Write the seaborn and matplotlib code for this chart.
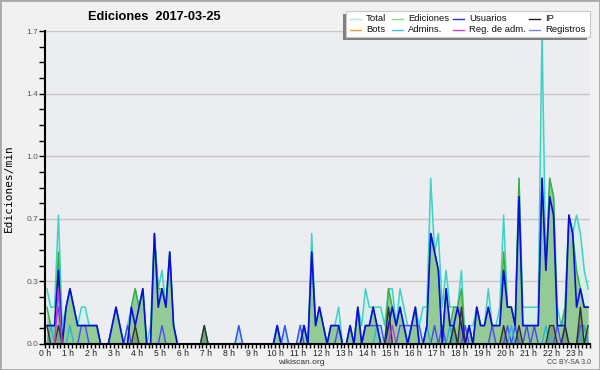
import numpy as np
import pandas as pd
import matplotlib
matplotlib.use("Agg")
import matplotlib.pyplot as plt
import seaborn as sns
from matplotlib.lines import Line2D
from matplotlib.patches import Rectangle

# Edits counted per 10-minute slot (chart shows edits/min = count / 10)
total = [3,2,2,7,1,2, 3,2,1,2,2,1, 1,1,0,0,0,1, 2,1,0,1,2,3,
         2,3,0,1,6,3, 4,2,5,1,0,0, 0,0,0,0,0,1, 0,0,0,0,0,0,
         0,0,1,0,0,0, 0,0,0,0,0,0, 1,0,1,0,0,0, 1,1,0,6,1,2,
         1,0,1,1,2,0, 0,1,0,2,1,3, 2,2,2,2,1,3, 3,1,3,2,1,1,
         2,1,2,2,9,5, 6,2,4,2,2,2, 4,0,1,1,2,1, 1,3,1,1,2,7,
         2,2,1,9,2,2, 2,2,2,17,4,9, 8,2,1,2,7,6, 7,6,4,3]
ediciones = [2,1,1,5,0,2, 3,2,1,1,1,1, 1,1,0,0,0,1, 2,1,0,0,2,3,
             2,3,0,0,6,3, 3,2,5,1,0,0, 0,0,0,0,0,1, 0,0,0,0,0,0,
             0,0,0,0,0,0, 0,0,0,0,0,0, 1,0,0,0,0,0, 0,1,0,5,1,2,
             1,0,1,1,1,0, 0,1,0,2,0,1, 1,2,1,0,0,3, 2,1,2,1,0,1,
             2,0,0,1,6,5, 4,0,3,1,2,2, 3,0,1,0,2,1, 1,2,1,1,1,5,
             2,2,1,9,1,1, 1,1,1,9,4,9, 8,1,1,2,7,6, 4,3,2,2]
usuarios = [1,1,1,4,0,2, 3,2,1,1,1,1, 1,1,0,0,0,1, 2,1,0,0,2,1,
            2,3,0,0,6,2, 3,2,5,1,0,0, 0,0,0,0,0,0, 0,0,0,0,0,0,
            0,0,0,0,0,0, 0,0,0,0,0,0, 1,0,0,0,0,0, 0,1,0,5,1,2,
            1,0,1,1,1,0, 0,1,0,2,0,1, 1,2,1,0,0,1, 2,1,2,1,0,1,
            2,0,0,1,6,5, 4,0,3,1,1,2, 1,0,1,0,2,1, 1,2,1,1,1,4,
            2,2,1,8,1,1, 1,1,1,9,4,8, 7,1,1,1,7,6, 2,3,2,2]
ip = [1,0,0,1,0,0, 0,0,0,0,0,0, 0,0,0,0,0,0, 0,0,0,0,0,1,
      0,0,0,0,0,0, 0,0,0,0,0,0, 0,0,0,0,0,1, 0,0,0,0,0,0,
      0,0,0,0,0,0, 0,0,0,0,0,0, 0,0,0,0,0,0, 0,0,0,0,0,0,
      0,0,0,0,0,0, 0,0,0,0,0,0, 0,0,0,0,0,2, 0,0,0,0,0,0,
      0,0,0,0,0,0, 0,0,0,0,1,0, 2,0,0,0,0,0, 0,0,0,0,0,1,
      0,0,0,1,0,0, 0,0,0,0,0,1, 1,0,0,1,0,0, 0,2,0,1]
bots = [0] * 142
admins = [0,1,0,0,0,0, 1,0,0,0,0,0, 0,0,0,0,0,0, 0,0,0,0,0,0,
          0,0,0,0,0,0, 0,0,0,0,0,0, 0,0,0,0,0,0, 0,0,0,0,0,0,
          0,0,0,0,0,0, 0,0,0,0,0,0, 1,0,0,0,0,0, 0,0,0,0,0,0,
          0,0,0,0,0,0, 0,0,0,0,0,0, 0,0,1,0,0,0, 0,0,0,0,0,0,
          0,0,0,1,0,0, 0,0,0,1,0,0, 0,0,0,0,0,0, 0,0,0,0,0,0,
          0,1,0,0,0,0, 0,0,0,0,1,0, 0,0,0,0,0,0, 0,0,1,0]
reg_adm = [0,0,0,3,0,0] + [0] * 84 + [1] + [0] * 51
registros = [1,1,1,2,0,0, 0,0,0,1,1,0, 0,0,0,0,0,0, 0,0,0,1,0,0,
             0,0,0,0,0,0, 1,0,0,0,0,0, 0,0,0,0,0,0, 0,0,0,0,0,0,
             0,0,1,0,0,0, 0,0,0,0,0,0, 0,0,1,0,0,0, 1,0,0,0,0,0,
             0,0,0,0,1,0, 0,0,0,0,0,1, 1,1,1,1,0,0, 0,0,1,1,1,1,
             1,1,0,0,0,1, 0,1,0,0,1,0, 0,1,0,0,0,0, 0,0,1,0,0,0,
             1,0,1,0,0,1, 0,1,0,0,0,0, 0,1,0,1,0,0, 0,1,1,0]
hour_labels = [f"{h} h" for h in range(24)]
y_tick_values = [0, 0.34, 0.68, 1.02, 1.36, 1.7]
y_tick_labels = ["0.0", "0.3", "0.7", "1.0", "1.4", "1.7"]

n = len(total)
df = pd.DataFrame({
    "hora": (np.arange(n) + 0.5) / 6.0,
    "Total": np.array(total) / 10, "Ediciones": np.array(ediciones) / 10,
    "Usuarios": np.array(usuarios) / 10, "IP": np.array(ip) / 10,
    "Bots": np.array(bots) / 10, "Admins.": np.array(admins) / 10,
    "Reg. de adm.": np.array(reg_adm) / 10, "Registros": np.array(registros) / 10,
})

W, H = 600, 370
fig = plt.figure(figsize=(6, 3.7), dpi=100, facecolor="#f1f1f1")
ax = fig.add_axes([45 / W, 1 - 344 / H, 545 / W, 313 / H])
ax.set_facecolor("#ecedf0")

x = df["hora"]
ax.fill_between(x, df["Total"], color="#d6efea", lw=0, zorder=1)
ax.fill_between(x, df["Registros"], color="#a8cce2", alpha=0.55, lw=0, zorder=2)
ax.fill_between(x, df["Ediciones"], color="#8cc68c", alpha=0.9, lw=0, zorder=3)
ax.fill_between(x, df["IP"], color="#2a3a2a", alpha=0.25, lw=0, zorder=4)

line_specs = [
    ("Total", "#3fd2c4", 1.1),
    ("Ediciones", "#3aae3a", 1.0),
    ("Bots", "#f0a030", 1.0),
    ("Registros", "#4a4af4", 1.0),
    ("Admins.", "#22b8d8", 1.0),
    ("Usuarios", "#0c0ce0", 1.2),
    ("IP", "#303030", 1.0),
    ("Reg. de adm.", "#d030e0", 1.0),
]
for i, (col, c, lw) in enumerate(line_specs):
    sns.lineplot(data=df, x="hora", y=col, ax=ax, color=c, lw=lw,
                 estimator=None, sort=False, legend=False, zorder=5 + i)

ax.set_xlim(0, 545 / 23.05)
ax.set_ylim(0, 1.7)
ax.set_xticks(range(24))
ax.set_xticklabels(hour_labels)
ax.set_xticks(np.arange(0, 23.7, 1 / 6), minor=True)
ax.set_yticks(y_tick_values)
ax.set_yticklabels(y_tick_labels)
ax.set_yticks(np.arange(0, 1.71, 0.085), minor=True)
ax.tick_params(axis="x", which="both", direction="out", length=3, width=1,
               color="black", pad=0.5, labelsize=6.2, labelcolor="#222222")
ax.tick_params(axis="y", which="both", direction="out", length=4, width=1,
               color="black", pad=1, labelsize=6, labelcolor="#555555")
for t in ax.get_xticklabels() + ax.get_yticklabels():
    t.set_family("Liberation Sans")
ax.yaxis.grid(True, color="#c6c6c6", lw=1)
ax.set_axisbelow(True)
for s in ("top", "right"):
    ax.spines[s].set_visible(False)
for s in ("left", "bottom"):
    ax.spines[s].set_color("black")
    ax.spines[s].set_linewidth(1.5)
    ax.spines[s].set_zorder(20)
ax.set_xlabel("")
ax.set_ylabel("")

def fx(px):
    return px / W

def fy(py):
    return 1 - py / H

fig.text(fx(154), fy(17), "Ediciones  2017-03-25", ha="center", va="center",
         weight="bold", size=9.2, family="Liberation Sans")
fig.text(fx(9), fy(188), "Ediciones/min", rotation=90, ha="center", va="center",
         size=8, family="DejaVu Sans Mono")
fig.text(fx(301), fy(362.5), "wikiscan.org", ha="center", va="center",
         size=6, color="#333333", family="Liberation Sans")
fig.text(fx(569), fy(362.5), "CC BY-SA 3.0", ha="center", va="center",
         size=5, color="#444444", family="Liberation Sans")

# legend box with shadow
fig.patches.append(Rectangle((fx(343), fy(40)), (590 - 346) / W, 26 / H,
                             transform=fig.transFigure, facecolor="#808080",
                             edgecolor="none", zorder=30))
fig.patches.append(Rectangle((fx(346), fy(37)), (590 - 346) / W, 26 / H,
                             transform=fig.transFigure, facecolor="white",
                             edgecolor="#c8c8c8", lw=0.8, zorder=31))
legend_items = [
    ("Total", "#b0e8e0", 0, 0), ("Ediciones", "#90d890", 1, 0),
    ("Usuarios", "#3030e0", 2, 0), ("IP", "#202020", 3, 0),
    ("Bots", "#f0a030", 0, 1), ("Admins.", "#40c8e0", 1, 1),
    ("Reg. de adm.", "#d040e0", 2, 1), ("Registros", "#8080f0", 3, 1),
]
col_handle = [350, 392, 453, 529]
col_label = [366, 408, 469, 545]
row_y = [18.5, 29.5]
for name, c, ci, ri in legend_items:
    yy = fy(row_y[ri])
    fig.add_artist(Line2D([fx(col_handle[ci]), fx(col_handle[ci] + 11)], [yy, yy],
                          transform=fig.transFigure, color=c, lw=1, zorder=32))
    fig.text(fx(col_label[ci]), yy, name, ha="left", va="center", size=6.8,
             family="Liberation Sans", color="#111111", zorder=33)

fig.patches.append(Rectangle((0, 0), 1, 1, transform=fig.transFigure, fill=False,
                             edgecolor="#a8a8a8", lw=2, zorder=40))

fig.savefig("out.png", dpi=100, facecolor=fig.get_facecolor())
